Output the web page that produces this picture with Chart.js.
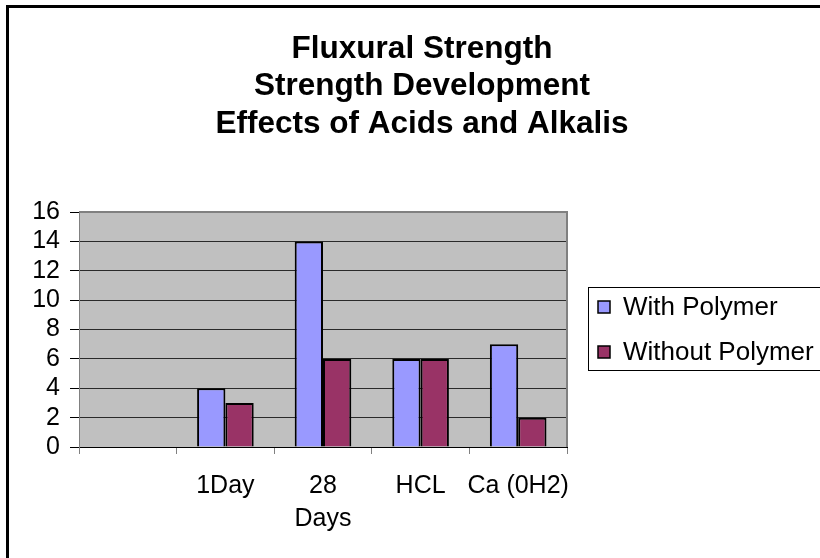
<!DOCTYPE html>
<html>
<head>
<meta charset="utf-8">
<style>
  html, body { margin: 0; padding: 0; background: #fff; }
  #chart { display: block; }
</style>
<script src="https://cdn.jsdelivr.net/npm/chart.js@4/dist/chart.umd.min.js"></script>
</head>
<body>
<canvas id="chart" width="820" height="558"></canvas>
<script>
// Chart data
const categories = ['', '1Day', ['28', 'Days'], 'HCL', 'Ca (0H2)'];
const withPolymer = [null, 4, 14, 6, 7];
const withoutPolymer = [null, 3, 6, 6, 2];
const seriesNames = ['With Polymer', 'Without Polymer'];
const titleLines = ['Fluxural Strength', 'Strength Development', 'Effects of Acids and Alkalis'];

const FONT = '"Liberation Sans", Arial, sans-serif';

/**
 * Grey plot background, outer frame and the chart title.
 */
const frame = {
    id: 'frame',
    beforeDraw(chart) {
        const { ctx, chartArea: a } = chart;
        ctx.save();
        ctx.fillStyle = '#c0c0c0';
        ctx.fillRect(a.left, a.top, a.right - a.left, a.bottom - a.top);

        // outer border (only top/left visible)
        ctx.fillStyle = '#000';
        ctx.fillRect(6, 5, 820, 3);
        ctx.fillRect(6, 5, 3, 560);

        ctx.fillStyle = '#000';
        ctx.font = 'bold 31.5px ' + FONT;
        ctx.textAlign = 'center';
        ctx.textBaseline = 'middle';
        titleLines.forEach((line, i) => ctx.fillText(line, 422, 49 + i * 37.5));
        ctx.restore();
    },
    afterDatasetsDraw(chart) {
        const { ctx, chartArea: a } = chart;
        ctx.save();
        ctx.strokeStyle = '#808080';
        ctx.lineWidth = 2;
        ctx.beginPath();
        ctx.moveTo(a.left, a.top);
        ctx.lineTo(a.right, a.top);
        ctx.lineTo(a.right, a.bottom);
        ctx.stroke();
        ctx.restore();
    }
};

/**
 * Boxed legend on the right, built from the datasets.
 */
const boxLegend = {
    id: 'boxLegend',
    afterDraw(chart) {
        const { ctx } = chart;
        const x = 588, y = 287, rowH = 45;
        ctx.save();
        ctx.strokeStyle = '#000';
        ctx.lineWidth = 1;
        ctx.strokeRect(x + 0.5, y + 0.5, 260, 83);
        ctx.font = '26px ' + FONT;
        ctx.textBaseline = 'middle';
        chart.data.datasets.forEach((ds, i) => {
            const cy = y + 20 + i * rowH;
            ctx.fillStyle = ds.backgroundColor;
            ctx.fillRect(598, cy - 6, 12, 12);
            ctx.lineWidth = 1.5;
            ctx.strokeRect(598, cy - 6, 12, 12);
            ctx.fillStyle = '#000';
            ctx.fillText(ds.label, 623, cy + 1);
        });
        ctx.restore();
    }
};

new Chart(document.getElementById('chart'), {
    type: 'bar',
    data: {
        labels: categories,
        datasets: [
            {
                label: seriesNames[0],
                data: withPolymer,
                backgroundColor: '#9999ff',
                borderColor: '#000',
                borderWidth: 2,
                categoryPercentage: 0.58,
                barPercentage: 1
            },
            {
                label: seriesNames[1],
                data: withoutPolymer,
                backgroundColor: '#993366',
                borderColor: '#000',
                borderWidth: 2,
                categoryPercentage: 0.58,
                barPercentage: 1
            }
        ]
    },
    options: {
        responsive: false,
        animation: false,
        layout: { padding: { left: 0, top: 212, right: 253, bottom: 0 } },
        plugins: {
            legend: { display: false },
            title: { display: false },
            tooltip: { enabled: false }
        },
        scales: {
            x: {
                afterFit(scale) { scale.height = 111; },
                grid: {
                    offset: true,
                    drawOnChartArea: false,
                    drawTicks: true,
                    tickLength: 7,
                    tickColor: '#808080',
                    tickWidth: 1
                },
                border: { color: '#000', width: 1 },
                ticks: {
                    color: '#000',
                    padding: 16,
                    maxRotation: 0,
                    autoSkip: false,
                    font: { family: FONT, size: 25, lineHeight: 1.32 }
                }
            },
            y: {
                min: 0,
                max: 16,
                afterFit(scale) { scale.width = 79; },
                grid: {
                    color: '#2a2a2a',
                    lineWidth: 1,
                    tickLength: 9,
                    tickColor: '#000'
                },
                border: { color: '#808080', width: 1 },
                ticks: {
                    stepSize: 2,
                    autoSkip: false,
                    color: '#000',
                    padding: 10,
                    font: { family: FONT, size: 25 }
                }
            }
        }
    },
    plugins: [frame, boxLegend]
});
</script>
</body>
</html>
